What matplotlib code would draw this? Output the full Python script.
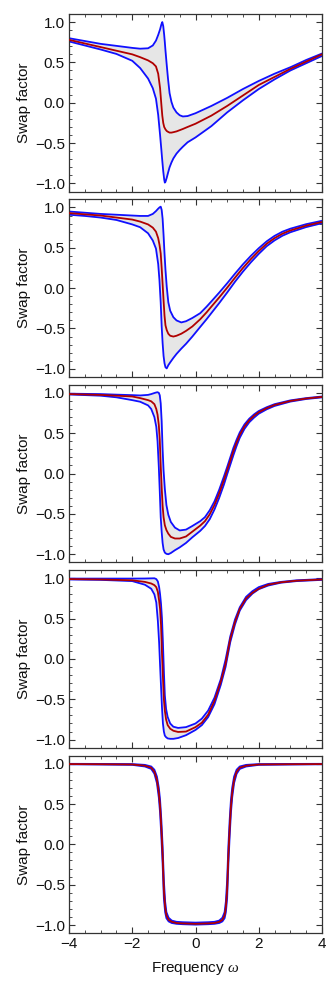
import matplotlib
matplotlib.use("Agg")
import matplotlib.pyplot as plt
from matplotlib.ticker import MultipleLocator

plt.rcParams['font.family'] = ['Liberation Sans', 'DejaVu Sans']
plt.rcParams['mathtext.fontset'] = 'custom'
plt.rcParams['mathtext.it'] = 'Liberation Serif:italic'
plt.rcParams['mathtext.rm'] = 'Liberation Sans'

# ---------------- data ----------------
x1 = [-4, -3.5, -3, -2.5, -2, -1.75, -1.5, -1.35, -1.25, -1.18, -1.12, -1.08, -1.05, -1.02,
      -0.99, -0.97, -0.95, -0.91, -0.87, -0.82, -0.76, -0.7, -0.6, -0.5, -0.4, -0.25, 0,
      0.25, 0.5, 1.0, 1.5, 2.0, 2.5, 3.0, 3.5, 4.0]
up1 = [0.80, 0.765, 0.73, 0.705, 0.68, 0.67, 0.675, 0.71, 0.77, 0.84, 0.91, 0.97, 1.00, 0.95,
       0.84, 0.75, 0.65, 0.47, 0.30, 0.12, 0.01, -0.06, -0.12, -0.155, -0.17, -0.165, -0.13,
       -0.085, -0.04, 0.06, 0.17, 0.27, 0.36, 0.44, 0.53, 0.61]
mid1 = [0.78, 0.735, 0.69, 0.645, 0.60, 0.565, 0.525, 0.49, 0.45, 0.36, 0.18, -0.02, -0.16, -0.25,
        -0.30, -0.315, -0.33, -0.35, -0.36, -0.37, -0.37, -0.365, -0.355, -0.34, -0.325, -0.30, -0.26,
        -0.21, -0.16, -0.04, 0.09, 0.22, 0.32, 0.42, 0.51, 0.60]
lo1 = [0.76, 0.71, 0.66, 0.605, 0.52, 0.43, 0.30, 0.18, 0.05, -0.15, -0.40, -0.58, -0.72, -0.85,
       -0.95, -0.99, -0.98, -0.93, -0.87, -0.80, -0.74, -0.69, -0.63, -0.585, -0.545, -0.49, -0.43,
       -0.36, -0.29, -0.12, 0.03, 0.17, 0.29, 0.40, 0.49, 0.58]

x2 = [-4, -3.5, -3, -2.5, -2, -1.75, -1.5, -1.35, -1.25, -1.18, -1.14, -1.10, -1.07, -1.04,
      -1.01, -0.98, -0.95, -0.91, -0.86, -0.8, -0.7, -0.6, -0.45, -0.3, -0.1, 0.15, 0.35, 0.5,
      0.75, 1.0, 1.25, 1.5, 1.75, 2.0, 2.25, 2.5, 2.75, 3.0, 3.5, 4.0]
up2 = [0.95, 0.935, 0.92, 0.91, 0.90, 0.895, 0.895, 0.92, 0.955, 0.985, 1.00, 1.01, 0.97, 0.86,
       0.66, 0.43, 0.23, 0.02, -0.175, -0.28, -0.36, -0.40, -0.425, -0.41, -0.37, -0.31, -0.23, -0.165,
       -0.055, 0.06, 0.18, 0.295, 0.40, 0.495, 0.58, 0.648, 0.70, 0.737, 0.793, 0.835]
mid2 = [0.93, 0.915, 0.90, 0.875, 0.85, 0.825, 0.79, 0.75, 0.70, 0.62, 0.54, 0.43, 0.25, 0.05,
        -0.15, -0.34, -0.46, -0.52, -0.565, -0.59, -0.60, -0.59, -0.565, -0.53, -0.475, -0.385, -0.30, -0.23,
        -0.115, 0.005, 0.13, 0.25, 0.36, 0.46, 0.55, 0.62, 0.675, 0.715, 0.775, 0.82]
lo2 = [0.91, 0.895, 0.875, 0.845, 0.79, 0.755, 0.68, 0.59, 0.49, 0.30, 0.10, -0.18, -0.47, -0.68,
       -0.84, -0.93, -0.98, -0.995, -0.955, -0.92, -0.865, -0.815, -0.75, -0.69, -0.60, -0.48, -0.385, -0.31,
       -0.185, -0.055, 0.08, 0.205, 0.32, 0.425, 0.52, 0.592, 0.65, 0.693, 0.757, 0.805]

x3 = [-4, -3, -2.5, -2, -1.75, -1.5, -1.4, -1.3, -1.24, -1.2, -1.16, -1.13, -1.10, -1.07,
      -1.04, -1.01, -0.97, -0.92, -0.86, -0.78, -0.65, -0.5, -0.3, -0.1, 0.15, 0.3, 0.45, 0.6,
      0.75, 0.9, 1.0, 1.1, 1.2, 1.3, 1.4, 1.55, 1.7, 1.85, 2.0, 2.25, 2.5, 3.0, 3.5, 4.0]
up3 = [0.99, 0.985, 0.978, 0.972, 0.968, 0.975, 0.985, 0.998, 1.005, 1.008, 1.0, 0.97, 0.87, 0.65,
       0.30, 0.04, -0.19, -0.39, -0.51, -0.60, -0.67, -0.705, -0.695, -0.65, -0.59, -0.54, -0.455, -0.345,
       -0.20, -0.035, 0.08, 0.20, 0.32, 0.42, 0.51, 0.61, 0.68, 0.733, 0.775, 0.822, 0.86, 0.907, 0.935, 0.955]
mid3 = [0.985, 0.975, 0.965, 0.955, 0.935, 0.91, 0.895, 0.86, 0.80, 0.73, 0.60, 0.42, 0.10, -0.17,
        -0.40, -0.54, -0.64, -0.70, -0.745, -0.785, -0.805, -0.805, -0.78, -0.72, -0.645, -0.59, -0.505, -0.39,
        -0.245, -0.08, 0.04, 0.16, 0.28, 0.385, 0.48, 0.585, 0.66, 0.715, 0.76, 0.81, 0.85, 0.90, 0.93, 0.95]
lo3 = [0.98, 0.965, 0.945, 0.91, 0.89, 0.845, 0.80, 0.70, 0.58, 0.40, 0.08, -0.22, -0.54, -0.72,
       -0.86, -0.94, -0.98, -0.995, -1.0, -0.985, -0.95, -0.915, -0.86, -0.79, -0.71, -0.65, -0.565, -0.445,
       -0.30, -0.135, -0.01, 0.11, 0.23, 0.343, 0.444, 0.555, 0.636, 0.693, 0.742, 0.796, 0.838, 0.892, 0.924, 0.944]

x4 = [-4, -3, -2, -1.6, -1.4, -1.3, -1.24, -1.19, -1.15, -1.12, -1.09, -1.06, -1.03, -1.0,
      -0.97, -0.93, -0.88, -0.8, -0.7, -0.55, -0.3, 0.0, 0.2, 0.4, 0.6, 0.8, 0.95, 1.1, 1.25,
      1.4, 1.6, 1.8, 2.0, 2.3, 2.7, 3.2, 4.0]
up4 = [0.996, 0.996, 0.996, 0.997, 0.999, 1.0, 0.99, 0.96, 0.89, 0.80, 0.68, 0.50, 0.20, -0.15,
       -0.45, -0.62, -0.72, -0.80, -0.84, -0.855, -0.845, -0.80, -0.74, -0.64, -0.48, -0.25, -0.01,
       0.28, 0.49, 0.64, 0.77, 0.84, 0.89, 0.93, 0.955, 0.975, 0.99]
mid4 = [0.99, 0.985, 0.975, 0.955, 0.935, 0.915, 0.89, 0.83, 0.72, 0.62, 0.42, 0.07, -0.22, -0.50,
        -0.64, -0.75, -0.82, -0.865, -0.89, -0.905, -0.90, -0.845, -0.79, -0.69, -0.52, -0.28, -0.06,
        0.25, 0.46, 0.62, 0.75, 0.82, 0.87, 0.92, 0.95, 0.97, 0.985]
lo4 = [0.985, 0.98, 0.965, 0.92, 0.87, 0.80, 0.70, 0.47, 0.20, -0.08, -0.34, -0.60, -0.80, -0.90,
       -0.95, -0.97, -0.985, -0.99, -0.99, -0.98, -0.945, -0.88, -0.82, -0.72, -0.56, -0.32, -0.10,
       0.21, 0.43, 0.60, 0.73, 0.81, 0.865, 0.91, 0.945, 0.965, 0.98]

x5 = [-4, -3, -2, -1.6, -1.4, -1.3, -1.22, -1.16, -1.12, -1.08, -1.04, -1.0, -0.96, -0.92,
      -0.85, -0.75, -0.6, -0.4, 0, 0.4, 0.6, 0.75, 0.85, 0.92, 0.96, 1.0, 1.04, 1.08, 1.12,
      1.16, 1.22, 1.3, 1.4, 1.6, 2, 3, 4]
up5 = [0.998, 0.997, 0.995, 0.985, 0.965, 0.925, 0.84, 0.70, 0.55, 0.30, -0.02, -0.45, -0.71, -0.84,
       -0.91, -0.945, -0.96, -0.965, -0.97, -0.965, -0.96, -0.945, -0.91, -0.84, -0.71, -0.45, -0.02,
       0.30, 0.55, 0.70, 0.84, 0.925, 0.965, 0.985, 0.995, 0.997, 0.998]
mid5 = [0.995, 0.993, 0.99, 0.975, 0.95, 0.90, 0.80, 0.64, 0.47, 0.20, -0.13, -0.57, -0.78, -0.88,
        -0.935, -0.96, -0.975, -0.98, -0.985, -0.98, -0.975, -0.96, -0.935, -0.88, -0.78, -0.57, -0.13,
        0.20, 0.47, 0.64, 0.80, 0.90, 0.95, 0.975, 0.99, 0.993, 0.995]
lo5 = [0.992, 0.989, 0.985, 0.965, 0.935, 0.875, 0.76, 0.58, 0.39, 0.10, -0.24, -0.67, -0.84, -0.915,
       -0.955, -0.975, -0.985, -0.99, -0.995, -0.99, -0.985, -0.975, -0.955, -0.915, -0.84, -0.67, -0.24,
       0.10, 0.39, 0.58, 0.76, 0.875, 0.935, 0.965, 0.985, 0.989, 0.992]

panels = [(x1, up1, mid1, lo1), (x2, up2, mid2, lo2), (x3, up3, mid3, lo3),
          (x4, up4, mid4, lo4), (x5, up5, mid5, lo5)]

x_ticks = [-4, -2, 0, 2, 4]
y_ticks = [-1.0, -0.5, 0.0, 0.5, 1.0]
y_label = "Swap factor"
x_label = r"Frequency $\omega$"

# ---------------- figure ----------------
W, H = 333, 985
fig = plt.figure(figsize=(W / 100, H / 100), dpi=100)

left_px, right_px = 69, 322
top_px, ax_h_px, pitch_px = 14, 177.5, 185.4

blue = "#1010FF"
red = "#B00000"
fill = "#E6E6E6"
frame = "#333333"

for i, (xs, up, mid, lo) in enumerate(panels):
    t = top_px + i * pitch_px
    rect = [left_px / W, 1 - (t + ax_h_px) / H, (right_px - left_px) / W, ax_h_px / H]
    ax = fig.add_axes(rect)
    ax.fill_between(xs, lo, up, color=fill, lw=0, zorder=1)
    ax.plot(xs, up, color=blue, lw=1.3, zorder=2, solid_joinstyle='round')
    ax.plot(xs, lo, color=blue, lw=1.3, zorder=2, solid_joinstyle='round')
    ax.plot(xs, mid, color=red, lw=1.3, zorder=3, solid_joinstyle='round')
    ax.set_xlim(-4, 4)
    ax.set_ylim(-1.1, 1.1)
    ax.set_xticks(x_ticks)
    ax.set_yticks(y_ticks)
    ax.xaxis.set_minor_locator(MultipleLocator(0.5))
    ax.yaxis.set_minor_locator(MultipleLocator(0.1))
    ax.tick_params(which='both', direction='in', top=True, right=True, color=frame,
                   labelsize=11, labelcolor='#111111', pad=3)
    ax.tick_params(which='major', length=4, width=0.8)
    ax.tick_params(which='minor', length=2.2, width=0.6)
    for s in ax.spines.values():
        s.set_color(frame)
        s.set_linewidth(0.9)
    ax.set_ylabel(y_label, fontsize=11, labelpad=3, color='#111111')
    if i < len(panels) - 1:
        ax.tick_params(labelbottom=False)
    else:
        ax.set_xlabel(x_label, fontsize=11, labelpad=6, color='#111111')

fig.savefig("out.png", dpi=100)
